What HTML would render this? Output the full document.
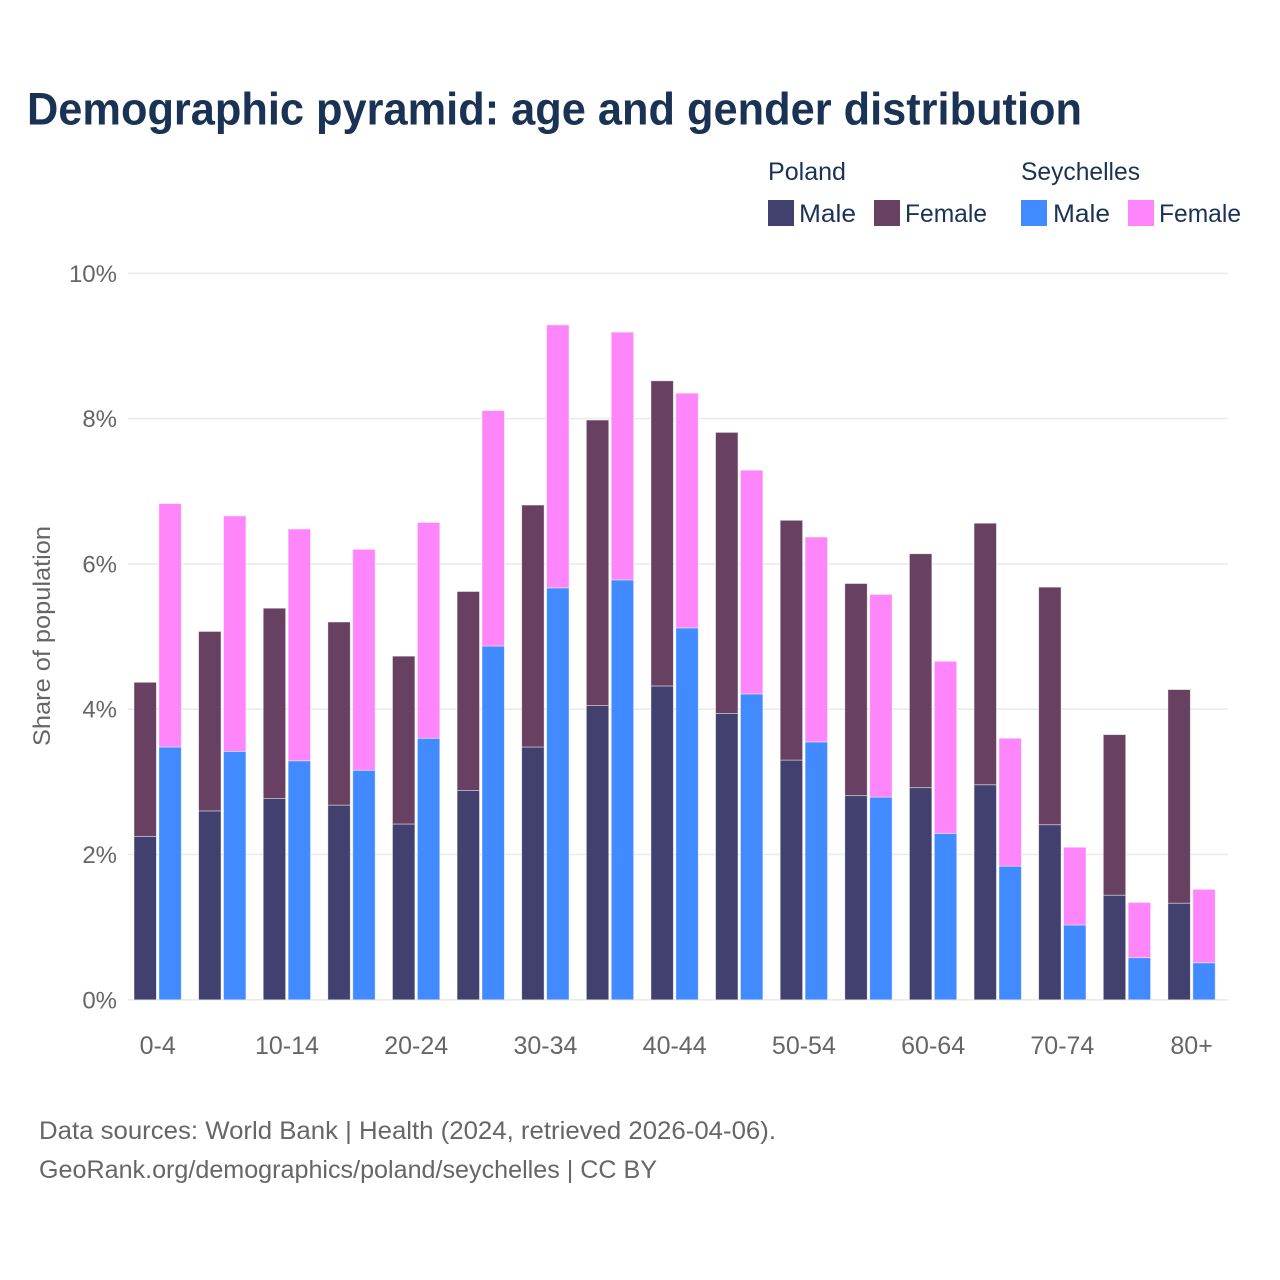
<!DOCTYPE html>
<html lang="en">
<head>
<meta charset="utf-8">
<title>Demographic pyramid</title>
<style>
html,body{margin:0;padding:0;background:#fff;width:1280px;height:1280px;overflow:hidden}
svg{display:block;font-family:"Liberation Sans",sans-serif}
</style>
</head>
<body>
<svg id="chart" width="1280" height="1280" viewBox="0 0 1280 1280" xmlns="http://www.w3.org/2000/svg">
  <rect width="1280" height="1280" fill="#fff"/>
  <text x="27" y="124.5" font-size="45" font-weight="700" fill="#1a3254" textLength="1055" lengthAdjust="spacingAndGlyphs">Demographic pyramid: age and gender distribution</text>

  <g fill="#1a3254" font-size="25">
    <text x="768" y="180" textLength="78" lengthAdjust="spacingAndGlyphs">Poland</text>
    <text x="1021" y="180" textLength="119" lengthAdjust="spacingAndGlyphs">Seychelles</text>
    <rect x="768" y="200" width="26" height="26" fill="#41406f"/>
    <text x="799" y="222" textLength="57" lengthAdjust="spacingAndGlyphs">Male</text>
    <rect x="874" y="200" width="26" height="26" fill="#674062"/>
    <text x="905" y="222" textLength="82" lengthAdjust="spacingAndGlyphs">Female</text>
    <rect x="1021" y="200" width="26" height="26" fill="#418aff"/>
    <text x="1053" y="222" textLength="57" lengthAdjust="spacingAndGlyphs">Male</text>
    <rect x="1128" y="200" width="26" height="26" fill="#ff85fa"/>
    <text x="1159" y="222" textLength="82" lengthAdjust="spacingAndGlyphs">Female</text>
  </g>

  <g id="grid"></g>
  <g id="yticks"></g>
  <g id="bars"></g>
  <g id="xticks"></g>

  <text transform="translate(50,636) rotate(-90)" text-anchor="middle" font-size="24" fill="#666" textLength="220" lengthAdjust="spacingAndGlyphs">Share of population</text>

  <text x="39" y="1139" font-size="25" fill="#666" textLength="737" lengthAdjust="spacingAndGlyphs">Data sources: World Bank | Health (2024, retrieved 2026-04-06).</text>
  <text x="39" y="1178" font-size="25" fill="#666" textLength="618" lengthAdjust="spacingAndGlyphs">GeoRank.org/demographics/poland/seychelles | CC BY</text>
</svg>
<script>
var categories = ["0-4","5-9","10-14","15-19","20-24","25-29","30-34","35-39","40-44","45-49","50-54","55-59","60-64","65-69","70-74","75-79","80+"];
var polandMale = [2.25,2.60,2.77,2.68,2.42,2.88,3.48,4.05,4.32,3.94,3.30,2.81,2.92,2.96,2.41,1.44,1.33];
var polandFemale = [2.12,2.47,2.62,2.52,2.31,2.74,3.33,3.93,4.20,3.87,3.30,2.92,3.22,3.60,3.27,2.21,2.94];
var seychellesMale = [3.48,3.42,3.29,3.16,3.60,4.87,5.67,5.78,5.12,4.21,3.55,2.79,2.29,1.84,1.03,0.58,0.51];
var seychellesFemale = [3.35,3.24,3.19,3.04,2.97,3.24,3.62,3.41,3.23,3.08,2.82,2.79,2.37,1.76,1.07,0.76,1.01];
var yTicks = [0,2,4,6,8,10];

var NS = "http://www.w3.org/2000/svg";
function y(v){ return 999.8 - v * 72.65; }
function groupX(i){ return 134 + i * 64.62; }
function make(tag, attrs, parent){
  var el = document.createElementNS(NS, tag);
  for (var k in attrs) el.setAttribute(k, attrs[k]);
  parent.appendChild(el);
  return el;
}
var gridG = document.getElementById("grid");
var yG = document.getElementById("yticks");
var barsG = document.getElementById("bars");
var xG = document.getElementById("xticks");

yTicks.forEach(function(t){
  var line = make("line", {x1:128, x2:1228, y1:y(t), y2:y(t), stroke:"#ebebeb", "stroke-width":1.6}, gridG);
  
  
  var label = make("text", {x:117, y:y(t)+8.5, "text-anchor":"end", "font-size":24, fill:"#666"}, yG);
  label.textContent = t + "%";
  
  
});

function bar(x, base, value, color){
  var top = y(base + value), bottom = y(base);
  var r = make("rect", {x:x, y:top, width:22.4, height:bottom-top, fill:color, stroke:"#fff", "stroke-opacity":0.55, "stroke-width":0.8}, barsG);
  
  
}
categories.forEach(function(c, i){
  var x0 = groupX(i), x1 = x0 + 24.9;
  bar(x0, 0, polandMale[i], "#41406f");
  bar(x0, polandMale[i], polandFemale[i], "#674062");
  bar(x1, 0, seychellesMale[i], "#418aff");
  bar(x1, seychellesMale[i], seychellesFemale[i], "#ff85fa");
  if (i % 2 === 0) {
    var label = make("text", {x:x0+23.7, y:1054, "text-anchor":"middle", "font-size":25, fill:"#666"}, xG);
    label.textContent = c;
    
    
  }
});
</script>
</body>
</html>
